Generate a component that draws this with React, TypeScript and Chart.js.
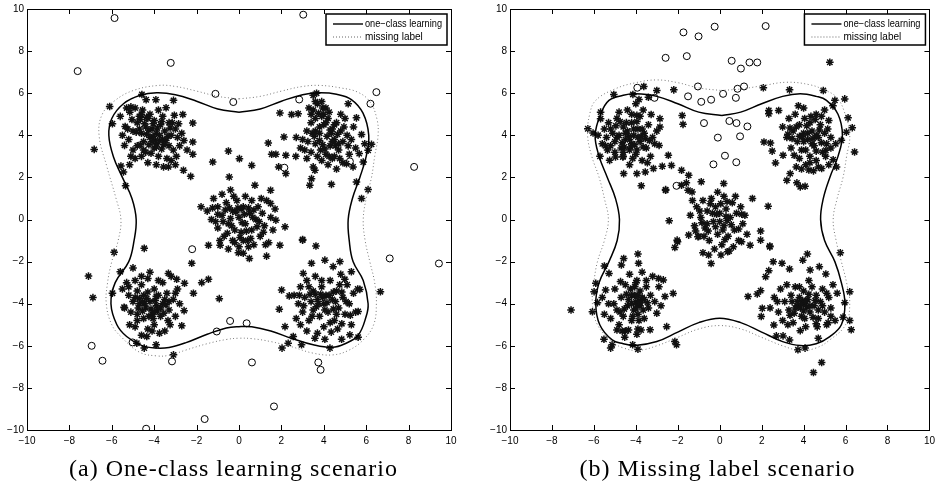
import React, { useEffect, useRef } from "react";
import { Chart, registerables } from "chart.js";

Chart.register(...registerables);

// ---------- shared labels ----------
const AXIS_TICKS = [-10, -8, -6, -4, -2, 0, 2, 4, 6, 8, 10];
const LEGEND_LABELS = ["one\u2212class learning", "missing label"];
const CAPTION_A = "(a) One-class learning scenario";
const CAPTION_B = "(b) Missing label scenario";

// ---------- panel (a): one-class learning scenario ----------
const A_STARS: number[][] = [
  // upper-left group
  [-6.83,3.33],[-6.1,5.37],[-5.97,4.55],[-5.6,4.9],[-5.37,4.42],[-5.4,3.52],[-5.57,2.54],[-5.45,2.26],[-5.16,2.6],[-5.35,1.6],
  [-4.58,5.94],[-4.38,5.69],[-3.92,5.69],[-3.44,5.31],[-3.09,5.66],[-2.65,4.99],[-2.18,4.58],[-2.18,3.68],[-2.18,3.1],[-2.28,2.05],
  [-2.62,2.34],[-3.33,2.5],[-3.56,2.5],[-3.88,3.6],
  [-5.3,5.3],[-5.1,5.35],[-4.9,5.3],[-5.5,4.0],[-5.2,3.8],[-5.0,3.3],[-5.1,3.0],[-5.0,4.2],[-4.8,4.6],[-4.7,4.9],
  [-4.6,4.1],[-4.5,3.7],[-4.4,4.4],[-4.3,4.8],[-4.2,3.9],[-4.1,4.3],[-4.0,3.4],[-4.0,4.7],[-3.9,4.1],[-3.8,3.0],
  [-3.7,4.5],[-3.6,3.8],[-3.5,4.2],[-3.4,2.9],[-3.3,3.5],[-3.2,4.0],[-3.1,3.3],[-3.0,4.3],[-2.9,3.9],[-2.8,3.5],
  [-2.7,4.1],[-4.6,3.0],[-4.4,3.2],[-4.8,3.5],[-4.2,5.0],[-3.8,5.2],[-3.6,4.9],[-3.3,4.6],[-4.9,2.9],[-4.3,2.7],
  [-3.9,2.6],[-3.2,2.8],[-4.7,4.3],[-4.35,4.05],[-3.95,3.75],[-3.65,3.35],[-4.15,3.15],[-3.45,3.75],[-2.95,3.0],[-5.25,4.3],
  [-4.55,5.2],[-3.75,4.0],[-4.05,4.55],[-3.25,4.35],[-2.85,4.55],[-3.05,4.95],[-5.05,4.75],[-4.65,3.55],[-4.25,3.55],
  [-4.45,4.55],[-4.25,4.25],[-4.05,3.95],[-3.85,4.35],[-3.65,4.65],[-4.65,4.75],[-4.85,4.15],[-3.55,3.55],[-3.35,3.95],[-4.5,3.3],
  [-4.1,3.7],[-3.9,3.45],[-4.35,4.85],[-3.75,3.75],[-4.6,5.0],[-5.15,5.1],[-3.15,4.6],[-2.6,3.75],[-2.45,3.3],[-3.0,2.6],
  // upper-right group
  [1.38,3.63],[1.54,3.1],[1.74,3.1],[1.93,5.06],[1.87,2.5],[2.21,3.05],[2.21,2.18],[2.12,3.92],[2.48,4.99],[2.68,3.0],
  [2.79,5.02],[3.5,5.9],[3.66,6.0],[3.34,1.63],[3.42,1.94],[3.58,2.34],[4.36,1.67],[5.07,2.65],[5.15,5.5],[5.54,4.83],
  [5.78,4.04],[5.93,3.6],[6.25,3.57],[6.09,3.29],[5.86,2.73],[5.54,1.78],[6.09,1.42],[5.78,1.0],[5.38,2.5],[5.67,3.13],
  [3.3,5.3],[3.5,5.2],[3.7,5.5],[3.9,5.6],[4.1,5.3],[4.0,5.0],[3.6,4.8],[3.4,4.6],[3.2,4.2],[3.0,3.8],
  [3.1,3.3],[3.4,3.2],[3.6,3.6],[3.8,4.1],[4.0,4.5],[4.2,4.8],[4.4,4.3],[4.6,4.6],[4.8,4.2],[4.5,3.8],
  [4.3,3.5],[4.1,3.1],[3.9,2.8],[4.2,2.6],[4.5,3.0],[4.7,3.3],[4.9,3.7],[5.1,4.0],[5.3,3.8],[5.2,3.1],
  [4.9,2.7],[4.6,2.4],[4.4,2.9],[3.7,3.0],[3.5,2.5],[3.2,2.9],[2.9,3.4],[2.7,3.9],[3.8,4.4],[4.15,3.95],
  [4.35,4.1],[3.95,3.55],[4.65,4.05],[4.25,5.1],[3.75,5.05],[3.45,4.1],[5.0,4.8],[4.8,5.0],[3.85,3.3],[4.55,3.5],
  [3.9,4.9],[4.1,4.6],[4.3,4.25],[3.6,4.2],[3.8,3.75],[4.05,3.35],[4.4,3.7],[4.7,3.6],[4.5,4.5],[3.4,5.0],
  [3.6,5.6],[4.95,4.4],[5.15,3.5],[4.75,2.9],[3.25,3.7],[4.25,3.0],[3.95,5.3],[5.4,4.4],[5.5,3.4],[3.55,3.95],
  // centre group
  [-0.5,3.25],[0.02,2.89],[0.6,2.57],[-1.24,2.73],[-0.46,2.02],[0.75,1.63],[1.49,1.39],[-1.79,0.6],[2.17,-0.35],[3.0,-0.95],
  [1.49,0.76],[1.74,-0.03],[1.3,-1.74],[0.49,-1.85],[-0.03,-1.58],[-1.44,-1.22],[-0.89,-1.22],[1.93,-1.22],
  [-1.5,0.4],[-1.3,0.0],[-1.2,1.0],[-1.0,0.6],[-1.0,-0.4],[-0.8,1.2],[-0.8,0.2],[-0.7,-0.8],[-0.6,0.8],[-0.5,-0.2],
  [-0.4,1.4],[-0.3,0.4],[-0.3,-1.0],[-0.2,-0.5],[-0.1,0.9],[0.0,0.1],[0.0,-1.3],[0.1,-0.6],[0.2,0.6],[0.3,-0.2],
  [0.3,1.1],[0.4,-1.0],[0.5,0.3],[0.6,-0.5],[0.6,0.9],[0.7,-1.2],[0.8,0.0],[0.9,0.6],[1.0,-0.8],[1.1,0.3],
  [1.2,-0.3],[1.3,0.9],[1.4,-1.1],[1.5,0.1],[1.6,-0.5],[1.7,0.5],[-0.9,-1.0],[-0.5,-1.4],[0.2,-1.6],[-1.1,-0.1],
  [-0.15,0.35],[0.45,0.55],[0.15,-0.15],[-0.35,-0.3],[0.85,-0.35],[-0.65,0.45],[1.05,1.0],[-0.25,1.1],[0.55,-0.9],[1.25,-1.2],
  [-0.45,0.55],[-0.05,0.55],[0.25,0.25],[0.65,0.1],[-0.75,-0.1],[-0.55,-0.65],[0.05,-0.85],[0.35,-0.55],[0.95,-0.1],[-1.0,0.25],
  [0.2,-1.0],[-0.2,-1.1],[0.7,0.45],[0.1,0.5],[-0.4,0.05],[0.45,-1.3],[1.15,-0.6],[-1.25,0.55],
  // lower-left group
  [-7.1,-2.69],[-6.89,-3.71],[-5.89,-1.56],[-5.97,-3.5],[-5.6,-2.48],[-5.42,-4.17],[-5.16,-5.0],[-4.82,-5.88],[-4.47,-1.37],[-4.47,-6.11],
  [-3.91,-5.95],[-4.35,-5.56],[-2.7,-5.05],[-2.59,-4.33],[-2.57,-3.03],[-2.94,-2.84],[-3.33,-2.56],[-2.23,-2.08],[-2.15,-3.5],[-1.76,-3.0],
  [-1.44,-2.84],[-0.93,-3.76],[-3.09,-6.43],
  [-5.5,-3.3],[-5.3,-3.0],[-5.2,-3.6],[-5.0,-3.9],[-5.0,-2.3],[-4.9,-2.9],[-4.8,-3.4],[-4.8,-4.5],[-4.7,-4.0],[-4.6,-3.1],
  [-4.5,-4.7],[-4.5,-3.6],[-4.4,-4.2],[-4.3,-2.8],[-4.3,-5.2],[-4.2,-3.9],[-4.1,-4.5],[-4.0,-3.3],[-4.0,-5.0],[-3.9,-4.1],
  [-3.8,-3.6],[-3.7,-4.6],[-3.6,-3.0],[-3.6,-4.0],[-3.5,-5.3],[-3.4,-3.5],[-3.3,-4.3],[-3.2,-2.7],[-3.1,-3.8],[-3.0,-4.6],
  [-2.9,-3.3],[-2.8,-4.0],[-4.6,-5.5],[-4.9,-5.1],[-5.1,-4.4],[-4.15,-4.25],[-3.85,-4.35],[-4.35,-3.75],[-3.95,-3.85],[-4.55,-4.35],
  [-3.45,-4.05],[-4.7,-3.75],[-3.75,-5.4],[-4.2,-2.5],[-3.8,-2.9],[-5.4,-4.2],[-4.05,-4.7],[-3.25,-5.0],
  [-4.45,-4.0],[-4.25,-4.6],[-4.0,-4.4],[-3.7,-4.2],[-4.55,-3.9],[-3.9,-3.65],[-4.3,-3.45],[-3.55,-4.45],[-4.75,-4.2],[-4.1,-5.3],
  [-3.3,-3.9],[-4.9,-3.7],[-5.2,-3.2],[-3.0,-3.5],[-4.6,-2.7],[-3.5,-3.8],[-4.8,-4.8],[-3.35,-4.8],
  // lower-right group
  [3.0,-0.98],[3.63,-1.26],[3.42,-2.08],[4.05,-1.93],[4.76,-2.0],[4.44,-2.24],[5.3,-2.48],[4.99,-2.84],[5.7,-3.32],[6.67,-3.43],
  [5.62,-4.37],[5.62,-5.59],[5.23,-5.48],[4.29,-6.11],[4.05,-5.69],[3.58,-5.64],[2.95,-5.95],[2.56,-5.56],[2.32,-5.88],[2.03,-6.11],
  [2.17,-5.09],[1.9,-4.26],[2.01,-3.35],[2.37,-3.63],[3.03,-2.56],[4.84,-5.69],
  [2.6,-3.6],[2.8,-4.0],[2.9,-3.2],[3.0,-4.4],[3.1,-3.7],[3.2,-2.9],[3.3,-4.8],[3.4,-3.9],[3.5,-3.4],[3.5,-4.3],
  [3.6,-2.7],[3.7,-3.8],[3.8,-4.6],[3.9,-3.2],[4.0,-4.0],[4.0,-5.1],[4.1,-3.6],[4.2,-4.4],[4.3,-2.9],[4.4,-3.8],
  [4.5,-4.8],[4.6,-3.4],[4.7,-4.2],[4.8,-2.6],[4.9,-3.7],[5.0,-4.5],[5.1,-3.1],[5.2,-4.0],[5.3,-5.0],[5.4,-3.5],
  [5.5,-4.4],[3.2,-5.3],[3.7,-5.4],[2.7,-4.7],[4.35,-5.35],[3.85,-3.55],[4.15,-3.95],[3.65,-4.15],[4.45,-3.45],[3.35,-3.55],
  [4.65,-5.2],[2.9,-5.0],[5.6,-3.3],[4.85,-4.95],
  [3.75,-4.0],[3.95,-3.7],[4.25,-3.6],[4.05,-4.3],[3.6,-3.55],[4.45,-4.25],[4.55,-3.9],[3.45,-4.6],[4.3,-4.9],[3.3,-3.2],
  [4.85,-3.45],[5.05,-3.9],[2.85,-3.6],[3.9,-2.9],[4.6,-4.5],[5.25,-4.55],[3.05,-4.1],[4.75,-3.1],
];

const A_CIRCLES: number[][] = [
  [-7.61,7.05],[-5.87,9.57],[-3.22,7.44],[-1.11,5.97],[-0.27,5.58],[2.84,5.7],[3.03,9.73],[2.14,2.46],[5.23,2.76],[6.2,5.5],
  [6.48,6.05],[8.26,2.5],[-2.21,-1.41],[7.11,-1.85],[9.43,-2.09],[-0.42,-4.82],[0.36,-4.93],[-1.05,-5.32],[-5.02,-5.84],[-6.95,-6.0],
  [-6.44,-6.71],[-3.16,-6.74],[0.61,-6.79],[3.74,-6.79],[3.85,-7.14],[1.65,-8.88],[-1.62,-9.48],[-4.38,-9.94],
];

const A_SOLID: number[][] = [
  [0,5.1],[1,5.25],[2,5.62],[3,5.93],[3.8,6.02],[4.6,5.95],[5.3,5.7],[5.85,5.05],[6.12,4.0],[6.0,3.0],
  [5.7,2.0],[5.35,1.0],[5.15,0],[5.2,-1.0],[5.38,-2.0],[5.86,-2.9],[6.09,-4.0],[6.0,-4.6],[5.62,-5.5],[5.0,-5.9],
  [4.4,-6.07],[3.5,-5.95],[2.5,-5.65],[1.5,-5.3],[0.6,-5.1],[0,-5.09],[-0.6,-5.15],[-1.5,-5.45],[-2.5,-5.85],[-3.3,-6.08],
  [-3.9,-6.11],[-4.6,-5.98],[-5.3,-5.56],[-5.76,-5.0],[-6.04,-4.0],[-5.84,-3.0],[-5.2,-2.0],[-4.95,-1.0],[-4.85,0],[-5.05,1.0],
  [-5.5,2.0],[-5.92,2.97],[-6.14,4.0],[-6.0,4.8],[-5.45,5.5],[-4.66,5.9],[-3.88,6.02],[-3.0,5.93],[-2.0,5.62],[-1.0,5.25],[0,5.1],
];

const A_DOTTED: number[][] = [
  [0,5.73],[1,5.85],[2,6.1],[3,6.32],[3.81,6.37],[4.8,6.25],[5.6,6.05],[6.17,5.6],[6.5,4.8],[6.56,4.0],
  [6.4,3.0],[6.25,2.0],[6.0,1.0],[5.86,0],[5.95,-1.0],[6.17,-2.0],[6.4,-3.0],[6.48,-4.0],[6.35,-5.0],[5.86,-5.72],
  [5.2,-6.2],[4.44,-6.43],[3.5,-6.35],[2.5,-6.05],[1.5,-5.8],[0.6,-5.66],[0,-5.64],[-0.6,-5.7],[-1.5,-5.9],[-2.5,-6.2],
  [-3.3,-6.45],[-3.88,-6.48],[-4.7,-6.3],[-5.53,-5.6],[-6.0,-5.0],[-6.26,-4.0],[-6.2,-3.0],[-6.0,-2.0],[-5.7,-1.0],[-5.57,0],
  [-5.8,1.0],[-6.23,2.5],[-6.6,4.0],[-6.45,5.0],[-5.84,5.66],[-4.98,6.13],[-3.8,6.37],[-3.0,6.32],[-2.0,6.1],[-1.0,5.85],[0,5.73],
];

// ---------- panel (b): missing label scenario ----------
const B_STARS: number[][] = [
  // upper-left group
  [-6.29,4.31],[-6.04,4.11],[-5.71,3.0],[-5.68,5.1],[-5.68,4.79],[-5.05,5.94],[-5.25,2.81],[-4.97,2.97],[-4.62,2.97],[-4.58,2.18],
  [-3.74,1.6],[-3.95,2.18],[-3.55,2.26],[-4.14,5.94],[-3.62,6.32],[-3.0,6.13],[-3.4,5.81],[-3.27,4.99],[-2.85,4.79],[-2.85,4.39],
  [-2.89,3.52],[-2.45,3.05],[-2.74,2.53],[-2.3,2.57],[-3.16,2.42],[-2.58,1.42],[-2.19,6.16],[-1.79,4.94],[-1.75,4.52],
  [-5.8,4.0],[-5.6,3.6],[-5.5,4.3],[-5.4,3.9],[-5.3,4.6],[-5.2,3.5],[-5.1,4.1],[-5.0,3.7],[-5.0,3.2],[-4.9,4.8],
  [-4.8,4.0],[-4.7,3.4],[-4.6,4.4],[-4.6,3.0],[-4.5,3.8],[-4.4,5.2],[-4.4,4.2],[-4.3,3.3],[-4.2,4.6],[-4.2,3.6],
  [-4.1,4.0],[-4.0,5.5],[-4.0,3.1],[-3.9,4.3],[-3.8,3.7],[-3.8,4.9],[-3.7,2.8],[-3.6,4.1],[-3.5,3.4],[-3.4,4.5],
  [-3.3,3.0],[-3.2,3.9],[-3.1,3.6],[-3.0,4.2],[-4.75,4.65],[-4.35,3.95],[-4.05,3.55],[-3.95,4.65],[-4.55,3.45],[-3.65,5.2],
  [-4.8,5.1],[-4.3,2.6],[-5.35,3.3],[-3.45,2.7],[-3.85,5.7],[-4.15,2.9],[-3.55,3.85],[-4.95,4.45],
  [-4.5,4.1],[-4.3,3.8],[-4.1,4.3],[-3.9,3.9],[-3.7,4.3],[-4.25,3.45],[-4.65,3.65],[-4.45,4.6],[-3.95,3.3],[-3.75,3.95],
  [-4.9,3.9],[-5.2,4.3],[-3.35,3.75],[-3.95,4.95],[-4.6,3.2],[-3.65,3.45],[-5.45,3.5],[-4.2,5.0],
  // upper-right group
  [2.08,6.26],[2.11,3.68],[2.42,3.63],[2.5,3.25],[2.66,2.69],[2.34,5.18],[2.34,5.02],[2.81,5.18],[3.33,6.16],[3.02,3.05],
  [3.36,2.18],[3.2,1.86],[3.68,1.74],[4.07,1.58],[3.84,1.55],[4.47,2.31],[4.86,2.42],[4.94,6.13],[5.25,7.47],[5.49,5.66],
  [5.96,5.73],[6.12,4.83],[6.32,4.36],[6.43,3.21],[6.04,4.15],[5.8,3.76],[5.57,2.5],[5.41,2.84],[5.06,3.29],[5.53,3.6],
  [3.0,4.4],[3.2,3.9],[3.3,4.8],[3.4,3.4],[3.5,4.2],[3.6,5.0],[3.7,3.7],[3.8,2.9],[3.8,4.5],[3.9,3.3],
  [4.0,4.1],[4.0,5.3],[4.1,2.6],[4.2,3.8],[4.3,4.6],[4.3,3.0],[4.4,4.2],[4.5,3.5],[4.6,5.0],[4.6,2.8],
  [4.7,3.9],[4.8,4.5],[4.9,3.2],[5.0,4.1],[5.0,5.2],[5.1,3.6],[5.2,2.6],[5.2,4.7],[5.3,3.9],[5.4,5.4],
  [3.55,3.05],[4.15,4.45],[4.45,3.85],[3.95,3.95],[4.75,4.25],[4.25,2.35],[3.35,4.35],[4.85,3.65],[3.75,5.4],[4.55,4.75],
  [5.05,3.0],[3.65,2.5],
  [4.0,3.7],[4.2,4.1],[4.4,3.6],[4.6,4.0],[4.1,3.3],[3.8,3.95],[4.35,4.9],[4.85,4.9],[3.65,4.4],[4.6,3.25],
  [5.15,4.3],[3.45,3.85],[4.05,4.8],[4.3,2.7],[5.3,3.4],[3.9,2.4],[4.7,2.5],[3.25,4.05],
  // centre group
  [-2.58,1.39],[-1.82,1.63],[-1.59,1.74],[-1.82,2.34],[-1.48,2.1],[-0.88,1.79],[0.19,1.71],[-2.41,-0.06],[-2.03,-0.98],[-2.14,-1.33],
  [-1.51,1.39],[-1.32,1.31],[2.31,0.63],[1.95,-0.55],[2.39,-1.3],[1.56,1.0],[1.95,-0.98],[2.39,-1.26],[1.45,-1.22],[1.04,-1.06],
  [0.38,-1.53],[0.06,-1.69],[-0.41,-2.09],[-0.53,-1.69],[-0.8,-1.58],[-1.04,-0.82],[-1.48,-0.74],[-2.01,-1.06],
  [-1.4,0.2],[-1.2,-0.3],[-1.1,0.6],[-1.0,-0.8],[-0.9,0.1],[-0.8,0.9],[-0.7,-0.4],[-0.6,0.4],[-0.5,-1.0],[-0.4,1.0],
  [-0.3,-0.1],[-0.2,0.6],[-0.1,-0.7],[0.0,0.3],[0.1,-1.2],[0.2,1.1],[0.2,-0.3],[0.3,0.5],[0.4,-0.8],[0.5,0.1],
  [0.6,0.8],[0.7,-0.5],[0.8,0.3],[0.9,-1.0],[1.0,0.6],[1.1,-0.2],[1.2,0.2],[1.3,-0.7],[-0.85,-0.15],[0.35,-0.05],
  [-0.25,-1.4],[0.65,-1.3],[-1.3,0.9],[0.05,0.75],[-0.55,-0.55],[0.45,-1.5],[0.75,1.1],[-0.15,0.25],
  [-0.35,0.3],[0.0,-0.1],[0.3,0.15],[-0.6,-0.2],[0.15,-0.5],[-0.2,-0.35],[0.55,-0.25],[-0.45,0.75],[0.35,0.85],[-0.95,0.4],
  [0.9,-0.45],[-0.75,-0.8],[0.25,-0.95],[1.05,0.25],[-0.1,1.3],[-1.15,-0.55],
  // lower-left group
  [-7.09,-4.3],[-6.07,-4.38],[-5.99,-3.43],[-5.91,-3.03],[-5.83,-3.95],[-5.44,-3.35],[-5.5,-2.21],[-5.28,-2.56],[-5.52,-5.69],[-5.2,-6.11],
  [-5.13,-5.95],[-4.58,-1.85],[-4.69,-2.16],[-4.73,-2.95],[-4.53,-5.59],[-4.15,-5.95],[-3.9,-6.16],[-3.9,-1.64],[-3.87,-2.08],[-2.53,-5.09],
  [-2.22,-3.51],[-2.14,-5.8],[-2.06,-5.95],[-2.69,-2.87],[-2.92,-2.8],[-2.61,-3.66],[-3.0,-4.45],[-3.32,-5.24],
  [-5.6,-3.7],[-5.5,-4.5],[-5.3,-4.0],[-5.2,-4.7],[-5.0,-3.3],[-4.9,-4.3],[-4.8,-5.0],[-4.7,-3.7],[-4.6,-4.6],[-4.5,-3.1],
  [-4.5,-5.3],[-4.4,-4.1],[-4.3,-2.6],[-4.2,-3.6],[-4.2,-4.8],[-4.1,-4.3],[-4.0,-3.0],[-4.0,-3.9],[-3.9,-5.2],[-3.9,-4.5],
  [-3.8,-3.4],[-3.8,-4.1],[-3.7,-2.5],[-3.6,-3.8],[-3.6,-4.7],[-3.5,-3.2],[-3.4,-4.2],[-3.3,-3.6],[-3.2,-2.7],[-3.1,-3.9],
  [-2.9,-3.2],[-2.8,-4.1],[-4.35,-5.25],[-3.95,-4.05],[-4.05,-3.6],[-3.85,-3.85],[-4.25,-3.3],[-3.75,-5.25],[-4.65,-5.3],[-3.95,-2.9],
  [-4.2,-4.0],[-4.0,-4.25],[-3.8,-3.95],[-4.35,-3.8],[-3.9,-3.6],[-4.15,-4.6],[-3.65,-4.3],[-4.55,-4.25],[-3.7,-3.7],[-4.45,-3.55],
  [-4.05,-3.2],[-3.85,-4.8],[-3.45,-3.95],[-5.05,-4.0],[-4.75,-4.4],[-3.5,-2.9],[-3.95,-5.45],[-4.9,-5.25],
  // lower-right group
  [1.35,-3.66],[1.79,-3.54],[1.95,-3.38],[2.19,-2.72],[2.34,-2.43],[2.55,-2.01],[2.97,-2.08],[3.33,-2.35],[3.96,-1.93],[4.18,-1.64],
  [4.31,-2.4],[4.75,-2.24],[5.06,-2.59],[5.75,-1.58],[6.2,-3.43],[5.96,-3.95],[6.2,-4.8],[6.27,-5.24],[5.88,-4.64],[5.17,-4.9],
  [4.7,-5.64],[4.07,-6.11],[3.73,-6.19],[3.33,-5.72],[3.02,-5.53],[2.7,-5.53],[2.58,-5.01],[3.84,-5.28],[4.86,-6.79],[4.47,-7.27],
  [2.03,-4.22],[1.98,-4.61],
  [2.4,-4.2],[2.6,-3.7],[2.8,-4.4],[2.9,-3.3],[3.0,-4.8],[3.1,-3.9],[3.2,-3.1],[3.3,-4.3],[3.4,-3.6],[3.5,-4.9],
  [3.6,-3.2],[3.7,-4.1],[3.8,-3.7],[3.9,-4.6],[4.0,-3.4],[4.0,-4.0],[4.1,-5.1],[4.2,-3.8],[4.3,-4.4],[4.4,-3.2],
  [4.5,-4.1],[4.6,-3.6],[4.7,-4.7],[4.8,-3.9],[4.9,-3.3],[5.0,-4.4],[5.1,-5.0],[5.2,-3.7],[5.3,-4.2],[5.4,-3.1],
  [5.5,-4.8],[3.95,-3.85],[4.15,-4.15],[3.85,-4.2],[4.45,-4.65],[3.55,-4.45],[4.65,-5.1],[3.25,-5.0],[5.6,-3.5],[4.25,-2.9],
  [3.9,-4.0],[4.1,-3.9],[4.3,-4.1],[3.7,-3.9],[4.0,-4.35],[4.25,-3.55],[3.6,-4.2],[4.55,-3.85],[4.7,-4.3],[3.45,-3.9],
  [4.9,-4.1],[3.8,-3.2],[4.6,-4.95],[3.35,-4.55],[5.1,-3.5],[2.75,-3.9],[5.3,-4.6],[4.05,-4.7],
];

const B_CIRCLES: number[][] = [
  [-1.73,8.89],[-1.01,8.7],[-0.24,9.16],[2.19,9.19],[-2.58,7.68],[-1.57,7.76],[0.57,7.54],[1.01,7.17],[1.42,7.46],[1.79,7.46],
  [-3.93,6.26],[-1.04,6.32],[-1.51,5.85],[-0.88,5.59],[-0.41,5.69],[0.16,5.97],[0.85,6.21],[1.16,6.32],[0.77,5.78],[-0.75,4.58],
  [0.46,4.68],[0.8,4.58],[1.32,4.42],[-0.09,3.89],[0.97,3.95],[0.25,3.03],[-0.3,2.62],[0.79,2.72],[-2.06,1.6],[-3.11,5.78],
];

const B_SOLID: number[][] = [
  [0.1,4.94],[1,5.1],[2,5.5],[3,5.85],[3.84,5.97],[4.6,5.85],[5.09,5.66],[5.64,5.0],[5.85,4.0],[5.64,3.0],
  [5.25,2.0],[4.94,1.0],[4.81,0],[5.0,-1.0],[5.49,-2.0],[5.8,-3.0],[5.97,-4.0],[5.8,-5.0],[5.25,-5.56],[4.6,-5.9],
  [3.84,-5.99],[3.0,-5.8],[2.0,-5.35],[1.0,-4.9],[0,-4.69],[-1.0,-4.9],[-2.0,-5.35],[-3.0,-5.8],[-4.03,-5.99],[-4.6,-5.9],
  [-5.13,-5.72],[-5.72,-5.0],[-5.91,-4.0],[-5.75,-3.0],[-5.28,-2.0],[-4.89,-1.0],[-4.78,0],[-4.97,1.0],[-5.36,2.0],[-5.75,3.0],
  [-5.94,4.0],[-5.68,5.0],[-5.28,5.66],[-4.6,5.9],[-4.03,5.97],[-3.0,5.85],[-2.0,5.5],[-1.0,5.1],[0.1,4.94],
];

const B_DOTTED: number[][] = [
  [0.06,6.13],[1,6.2],[2,6.35],[3.2,6.52],[4.3,6.4],[5.0,6.15],[5.57,5.81],[5.95,5.1],[6.2,4.0],[6.05,3.0],
  [5.88,2.0],[5.6,1.0],[5.41,0],[5.55,-1.0],[5.8,-2.0],[6.05,-3.0],[6.2,-4.0],[6.0,-5.0],[5.25,-5.72],[4.6,-6.1],
  [3.84,-6.22],[3.0,-6.0],[2.0,-5.6],[1.0,-5.2],[0,-5.04],[-1.0,-5.2],[-2.0,-5.6],[-3.0,-6.0],[-3.9,-6.22],[-4.6,-6.1],
  [-5.13,-5.8],[-5.83,-5.0],[-6.07,-4.0],[-6.0,-3.0],[-5.83,-2.0],[-5.5,-1.0],[-5.31,0],[-5.5,1.0],[-5.75,2.0],[-6.1,3.0],
  [-6.3,4.0],[-6.2,5.0],[-5.91,5.66],[-5.0,6.2],[-4.0,6.5],[-3.0,6.63],[-2.0,6.5],[-1.0,6.25],[0.06,6.13],
];

// ---------- helpers ----------
const toXY = (arr: number[][]) => arr.map(([x, y]) => ({ x, y }));
const fmt = (v: number) => String(v).replace("-", "\u2212");
const SANS = "'Liberation Sans Narrow', 'Liberation Sans', Arial, sans-serif";
const TICK_FONT = { family: SANS, size: 10 };

type PanelProps = {
  stars: number[][];
  circles: number[][];
  solid: number[][];
  dotted: number[][];
  caption: string;
  captionX: number;
  yAxisWidth: number;
  padRight: number;
};

function Panel(p: PanelProps) {
  const ref = useRef<HTMLCanvasElement | null>(null);
  useEffect(() => {
    if (!ref.current) return;
    const decor = {
      id: "decor",
      afterDraw(chart: any) {
        const ctx = chart.ctx;
        const a = chart.chartArea;
        const xs = chart.scales.x;
        const ys = chart.scales.y;
        ctx.save();
        // frame
        ctx.strokeStyle = "#000";
        ctx.lineWidth = 1;
        ctx.strokeRect(Math.round(a.left) + 0.5, Math.round(a.top) + 0.5, Math.round(a.right - a.left), Math.round(a.bottom - a.top));
        // inward ticks on all four sides
        const tl = 5;
        ctx.beginPath();
        AXIS_TICKS.forEach((v) => {
          const x = Math.round(xs.getPixelForValue(v)) + 0.5;
          ctx.moveTo(x, a.bottom); ctx.lineTo(x, a.bottom - tl);
          ctx.moveTo(x, a.top); ctx.lineTo(x, a.top + tl);
          const y = Math.round(ys.getPixelForValue(v)) + 0.5;
          ctx.moveTo(a.left, y); ctx.lineTo(a.left + tl, y);
          ctx.moveTo(a.right, y); ctx.lineTo(a.right - tl, y);
        });
        ctx.stroke();
        // legend box
        const bx = a.right - 125, by = a.top + 5, bw = 121, bh = 31;
        ctx.fillStyle = "#fff";
        ctx.fillRect(bx, by, bw, bh);
        ctx.lineWidth = 1.5;
        ctx.strokeStyle = "#000";
        ctx.strokeRect(bx, by, bw, bh);
        ctx.lineWidth = 1.4;
        ctx.beginPath();
        ctx.moveTo(bx + 7, by + 10); ctx.lineTo(bx + 37, by + 10);
        ctx.stroke();
        ctx.lineWidth = 1;
        ctx.strokeStyle = "#666";
        ctx.setLineDash([1, 2]);
        ctx.beginPath();
        ctx.moveTo(bx + 7, by + 23); ctx.lineTo(bx + 37, by + 23);
        ctx.stroke();
        ctx.setLineDash([]);
        ctx.fillStyle = "#000";
        ctx.font = "10px " + SANS;
        ctx.textAlign = "left";
        ctx.textBaseline = "middle";
        ctx.fillText(LEGEND_LABELS[0], bx + 39, by + 10, 77);
        ctx.fillText(LEGEND_LABELS[1], bx + 39, by + 23, 59);
        // caption
        ctx.font = "24px 'Liberation Serif', 'Times New Roman', serif";
        (ctx as any).letterSpacing = "1px";
        ctx.textAlign = "center";
        ctx.textBaseline = "alphabetic";
        ctx.fillText(p.caption, p.captionX, 476);
        (ctx as any).letterSpacing = "0px";
        ctx.restore();
      },
    };
    const setTicks = (s: any) => {
      s.ticks = AXIS_TICKS.map((v) => ({ value: v }));
    };
    const chart = new Chart(ref.current, {
      type: "scatter",
      data: {
        datasets: [
          {
            label: LEGEND_LABELS[0],
            data: toXY(p.solid),
            showLine: true,
            borderColor: "#000",
            borderWidth: 1.5,
            pointRadius: 0,
            tension: 0.4,
            fill: false,
          },
          {
            label: LEGEND_LABELS[1],
            data: toXY(p.dotted),
            showLine: true,
            borderColor: "#777",
            borderWidth: 1,
            borderDash: [1, 2.5],
            pointRadius: 0,
            tension: 0.4,
            fill: false,
          },
          {
            label: "stars",
            data: toXY(p.stars),
            pointStyle: "star",
            pointRadius: 3.8,
            borderWidth: 1.5,
            borderColor: "#111",
            backgroundColor: "#111",
          },
          {
            label: "circles",
            data: toXY(p.circles),
            pointStyle: "circle",
            pointRadius: 3.5,
            borderWidth: 1,
            borderColor: "#000",
            backgroundColor: "rgba(255,255,255,0)",
          },
        ],
      } as any,
      options: {
        animation: false,
        responsive: false,
        events: [],
        layout: { padding: { left: 0, right: p.padRight, top: 8, bottom: 0 } },
        plugins: { legend: { display: false }, tooltip: { enabled: false }, title: { display: false } },
        scales: {
          x: {
            type: "linear",
            min: -10,
            max: 10,
            afterBuildTicks: setTicks,
            afterFit: (s: any) => { s.height = 56; },
            grid: { display: false, drawTicks: false },
            border: { display: false },
            ticks: { color: "#000", font: TICK_FONT, padding: 5, maxRotation: 0, autoSkip: false, callback: (v: any) => fmt(Number(v)) },
          },
          y: {
            type: "linear",
            min: -10,
            max: 10,
            afterBuildTicks: setTicks,
            afterFit: (s: any) => { s.width = p.yAxisWidth; },
            grid: { display: false, drawTicks: false },
            border: { display: false },
            ticks: { color: "#000", font: TICK_FONT, padding: 3, autoSkip: false, callback: (v: any) => fmt(Number(v)) },
          },
        },
      } as any,
      plugins: [decor],
    });
    return () => chart.destroy();
  }, []);
  return <canvas ref={ref} width={470} height={486} style={{ width: 470, height: 486, display: "block" }} />;
}

export default function App() {
  return (
    <div style={{ position: "absolute", left: 0, top: 0, width: 940, height: 486, background: "#fff", overflow: "hidden" }}>
      <div style={{ position: "absolute", left: 0, top: 0 }}>
        <Panel stars={A_STARS} circles={A_CIRCLES} solid={A_SOLID} dotted={A_DOTTED} caption={CAPTION_A} captionX={233.5} yAxisWidth={27} padRight={19} />
      </div>
      <div style={{ position: "absolute", left: 470, top: 0 }}>
        <Panel stars={B_STARS} circles={B_CIRCLES} solid={B_SOLID} dotted={B_DOTTED} caption={CAPTION_B} captionX={247.5} yAxisWidth={40} padRight={6} />
      </div>
    </div>
  );
}
